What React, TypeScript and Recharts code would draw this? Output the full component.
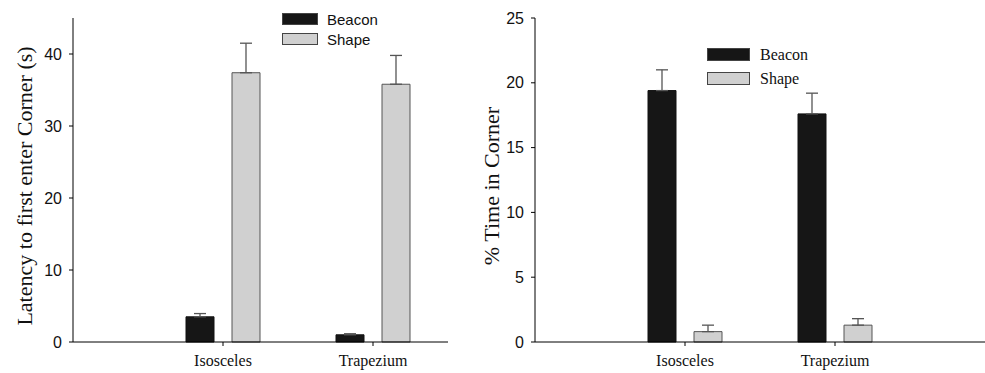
import React from 'react';
import { BarChart, Bar, XAxis, YAxis, ErrorBar } from 'recharts';

const categories = ['Isosceles', 'Trapezium'];
const seriesNames = ['Beacon', 'Shape'];

// latency to first enter corner (s)
const latencyBeacon = [3.5, 1.0];
const latencyBeaconErr = [0.45, 0.15];
const latencyShape = [37.4, 35.8];
const latencyShapeErr = [4.1, 4.0];

// % time in corner
const timeBeacon = [19.4, 17.6];
const timeBeaconErr = [1.6, 1.6];
const timeShape = [0.8, 1.3];
const timeShapeErr = [0.5, 0.5];

const latencyTicks = [0, 10, 20, 30, 40];
const timeTicks = [0, 5, 10, 15, 20, 25];

const BEACON = '#161616';
const SHAPE = '#d0d0d0';
const SANS = '"Liberation Sans", Arial, sans-serif';
const SERIF = '"Liberation Serif", "Times New Roman", serif';

const latencyData = categories.map((c, i) => ({
  name: c,
  beacon: latencyBeacon[i],
  beaconErr: [0, latencyBeaconErr[i]],
  shape: latencyShape[i],
  shapeErr: [0, latencyShapeErr[i]],
}));

const timeData = categories.map((c, i) => ({
  name: c,
  beacon: timeBeacon[i],
  beaconErr: [0, timeBeaconErr[i]],
  shape: timeShape[i],
  shapeErr: [0, timeShapeErr[i]],
}));

function LegendBox({ font, size, swW, swH, gap, textX, left, top }: any) {
  const colors = [BEACON, SHAPE];
  return (
    <div style={{ position: 'absolute', left, top, display: 'flex', flexDirection: 'column', gap }}>
      {seriesNames.map((n, i) => (
        <div key={n} style={{ display: 'flex', alignItems: 'center', height: swH }}>
          <div
            style={{
              width: swW,
              height: swH,
              background: colors[i],
              border: '1px solid #444',
              boxSizing: 'border-box',
            }}
          />
          <span style={{ marginLeft: textX, fontFamily: font, fontSize: size, color: '#111', lineHeight: 1 }}>
            {n}
          </span>
        </div>
      ))}
    </div>
  );
}

const yTitle = (text: string, x: number, cy: number, size: number) => () => (
  <text
    x={x}
    y={cy}
    transform={`rotate(-90, ${x}, ${cy})`}
    textAnchor="middle"
    dominantBaseline="central"
    fontFamily={SERIF}
    fontSize={size}
    fill="#111"
  >
    {text}
  </text>
);

const axisProps = {
  stroke: '#000',
  tickLine: { stroke: '#000' },
  tickSize: 4,
};

export default function App() {
  return (
    <div style={{ position: 'absolute', left: 0, top: 0, width: 985, height: 373, background: '#fff' }}>
      <div style={{ position: 'absolute', left: 0, top: 0 }}>
        <BarChart
          width={480}
          height={373}
          data={latencyData}
          margin={{ top: 18, right: 32, bottom: 0, left: 0 }}
          barSize={28}
          barGap={18}
        >
          <XAxis
            dataKey="name"
            {...axisProps}
            height={31}
            padding={{ left: 75, right: 0 }}
            tickMargin={9}
            tick={{ fontFamily: SERIF, fontSize: 16, fill: '#111' }}
          />
          <YAxis
            {...axisProps}
            width={73}
            domain={[0, 45]}
            ticks={latencyTicks}
            tickMargin={7}
            tick={{ fontFamily: SANS, fontSize: 16, fill: '#111' }}
            label={{ content: yTitle('Latency to first enter Corner (s)', 24, 186, 22) }}
          />
          <Bar dataKey="beacon" fill={BEACON} stroke="#111" isAnimationActive={false}>
            <ErrorBar dataKey="beaconErr" width={6} stroke="#555" strokeWidth={1.3} />
          </Bar>
          <Bar dataKey="shape" fill={SHAPE} stroke="#555" isAnimationActive={false}>
            <ErrorBar dataKey="shapeErr" width={6} stroke="#555" strokeWidth={1.3} />
          </Bar>
        </BarChart>
        <LegendBox font={SANS} size={15} swW={36} swH={12} gap={8} textX={9} left={282} top={13} />
      </div>
      <div style={{ position: 'absolute', left: 480, top: 0 }}>
        <BarChart
          width={505}
          height={373}
          data={timeData}
          margin={{ top: 18, right: 0, bottom: 0, left: 0 }}
          barSize={28}
          barGap={18}
        >
          <XAxis
            dataKey="name"
            {...axisProps}
            height={31}
            padding={{ left: 75, right: 75 }}
            tickMargin={9}
            tick={{ fontFamily: SERIF, fontSize: 16, fill: '#111' }}
          />
          <YAxis
            {...axisProps}
            width={55}
            domain={[0, 25]}
            ticks={timeTicks}
            tickMargin={7}
            tick={{ fontFamily: SANS, fontSize: 16, fill: '#111' }}
            label={{ content: yTitle('% Time in Corner', 11, 186, 22) }}
          />
          <Bar dataKey="beacon" fill={BEACON} stroke="#111" isAnimationActive={false}>
            <ErrorBar dataKey="beaconErr" width={6} stroke="#555" strokeWidth={1.3} />
          </Bar>
          <Bar dataKey="shape" fill={SHAPE} stroke="#555" isAnimationActive={false}>
            <ErrorBar dataKey="shapeErr" width={6} stroke="#555" strokeWidth={1.3} />
          </Bar>
        </BarChart>
        <LegendBox font={SERIF} size={16} swW={43} swH={13} gap={11} textX={10} left={227} top={48} />
      </div>
    </div>
  );
}
